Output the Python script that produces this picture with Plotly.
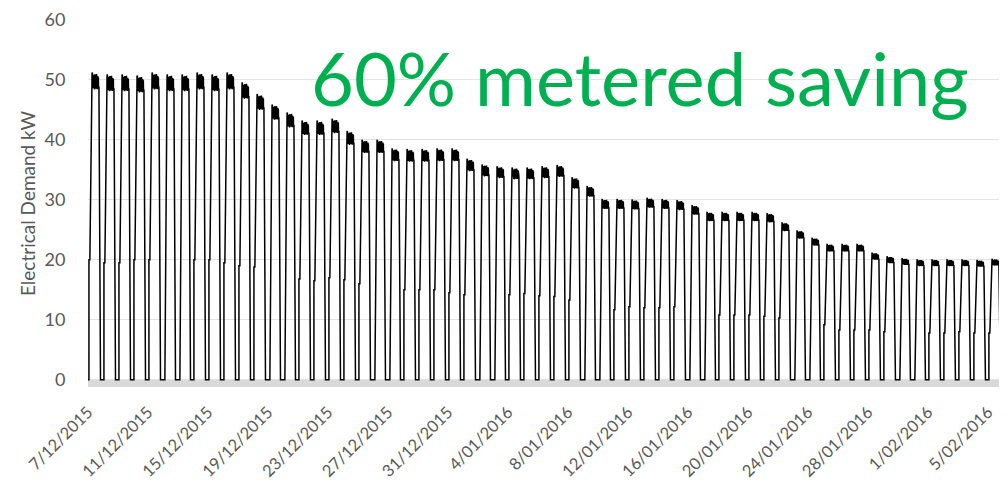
import pandas as pd
import plotly.graph_objects as go

# ---------------- data ----------------
START_DATE = "2015-12-07"

# daily plateau (working-hours) demand, kW, one value per day from 7/12/2015
PLATEAU_KW = [
    49.8, 49.5, 49.5, 49.3, 49.8, 49.5, 49.5, 49.8, 49.5, 49.8,
    48.2, 46.3, 44.6, 43.3, 42.0, 42.0, 42.3, 40.3, 38.9, 38.9,
    37.5, 37.4, 37.4, 37.5, 37.5, 35.8, 34.9, 34.6, 34.4, 34.4,
    34.6, 34.8, 32.8, 31.4, 29.3, 29.3, 29.2, 29.5, 29.3, 29.1,
    28.3, 27.2, 27.2, 27.2, 27.2, 27.0, 25.5, 24.2, 23.0, 22.0,
    22.0, 22.0, 20.6, 20.0, 19.7, 19.5, 19.5, 19.5, 19.5, 19.4,
    19.6, 19.5,
]

# early-morning start-up step, kW (0 = no step, weekends)
STEP_KW = [
    20.0, 19.5, 19.5, 20.0, 20.0, 0.0, 0.0,
    20.0, 20.0, 19.5, 19.0, 18.8, 0.0, 0.0,
    16.8, 16.5, 17.0, 16.7, 16.0, 0.0, 0.0,
    15.0, 15.0, 15.0, 14.5, 14.2, 0.0, 0.0,
    14.2, 14.4, 14.0, 13.9, 13.3, 0.0, 0.0,
    11.7, 12.2, 12.0, 12.0, 12.2, 0.0, 0.0,
    10.8, 10.8, 10.8, 10.6, 10.3, 0.0, 0.0,
    9.2, 8.3, 8.3, 8.3, 8.0, 0.0, 0.0,
    7.8, 7.8, 8.0, 7.8, 7.8, 0.0,
]

# 15-minute fluctuation across the plateau, % of the plateau level
PLATEAU_NOISE_PCT = [
    2.6, 0.4, 2.9, -0.6, 1.8, -1.5, 2.2, 0.3, -2.4, 1.1,
    -0.8, 2.0, -2.6, 0.9, 1.6, -1.9, 0.6, -2.8, 1.4, -0.4,
    2.3, -1.7, 0.8, -2.2, 1.5, -0.9, 2.1, -2.5, 0.2, 1.2,
    -1.6, 2.4, -0.7, -2.1, 1.0, -1.2, 1.9, -2.7, 0.5, -0.3,
    1.7, -2.0, 0.7, -1.4, 1.3, -2.3, 0.1, -1.0, -1.8,
]

TICK_LABELS = [
    "7/12/2015", "11/12/2015", "15/12/2015", "19/12/2015", "23/12/2015",
    "27/12/2015", "31/12/2015", "4/01/2016", "8/01/2016", "12/01/2016",
    "16/01/2016", "20/01/2016", "24/01/2016", "28/01/2016", "1/02/2016",
    "5/02/2016",
]
Y_TICKS = [0, 10, 20, 30, 40, 50, 60]

# daily timing of the load profile (hours)
RISE_H, STEP_END_H, PLATEAU_START_H, PLATEAU_END_H, OFF_H = 5.0, 6.5, 10.0, 21.0, 23.5
TICK_HOUR = 3.5

# ---------------- build the time series ----------------
start = pd.Timestamp(START_DATE)
H = lambda h: pd.Timedelta(hours=h)

xs, ys = [start], [0.0]
n = len(PLATEAU_NOISE_PCT)
for d, (pk, st) in enumerate(zip(PLATEAU_KW, STEP_KW)):
    day = start + pd.Timedelta(days=d)
    xs += [day + H(RISE_H), day + H(RISE_H + 1 / 60), day + H(STEP_END_H)]
    ys += [0.0, st, st]
    for i, p in enumerate(PLATEAU_NOISE_PCT):
        t = PLATEAU_START_H + (PLATEAU_END_H - PLATEAU_START_H) * i / (n - 1)
        xs.append(day + H(t))
        ys.append(pk * (1 + p / 100.0))
    xs.append(day + H(OFF_H))
    ys.append(0.0)

tickvals = [pd.to_datetime(lbl, dayfirst=True) + H(TICK_HOUR) for lbl in TICK_LABELS]

x_start = start + H(TICK_HOUR)
x_end = start + pd.Timedelta(days=61.27) + H(TICK_HOUR)

fig = go.Figure()
fig.add_trace(go.Scatter(
    x=xs, y=ys, mode="lines",
    line=dict(color="black", width=1.5),
    hoverinfo="skip", showlegend=False,
))

# grey band under the zero line
fig.add_shape(type="rect", xref="paper", yref="y", x0=0, x1=1, y0=-1.2, y1=0,
              fillcolor="#d9d9d9", line=dict(width=0), layer="below")

fig.add_annotation(
    text="60% metered saving", xref="paper", yref="paper",
    x=0.601, y=0.844, xanchor="center", yanchor="middle", showarrow=False,
    font=dict(family="Lato", size=74, color="#00b050"),
)

FONT = "Lato"
# page body has an 8px margin, so the figure is 8px smaller than the window
fig.update_layout(
    width=999, height=475,
    margin=dict(l=80, r=0, t=12, b=96),
    paper_bgcolor="white", plot_bgcolor="white",
    showlegend=False,
    xaxis=dict(
        type="date", range=[x_start, x_end], automargin=False,
        tickmode="array", tickvals=tickvals, ticktext=TICK_LABELS,
        tickangle=-45, showgrid=False, zeroline=False, showline=False,
        ticks="outside", ticklen=8, tickcolor="rgba(0,0,0,0)",
        tickfont=dict(family=FONT, size=16.5, color="#595959"),
    ),
    yaxis=dict(
        range=[-1.2, 60], tickmode="array", tickvals=Y_TICKS, automargin=False,
        showgrid=True, gridcolor="#e3e3e3", gridwidth=1, zeroline=False,
        showline=False, ticks="outside", ticklen=18, tickcolor="rgba(0,0,0,0)",
        tickfont=dict(family=FONT, size=18, color="#595959"),
        title=dict(text="Electrical Demand kW", standoff=3,
                   font=dict(family=FONT, size=19, color="#595959")),
    ),
)

fig.write_html("out.html")
